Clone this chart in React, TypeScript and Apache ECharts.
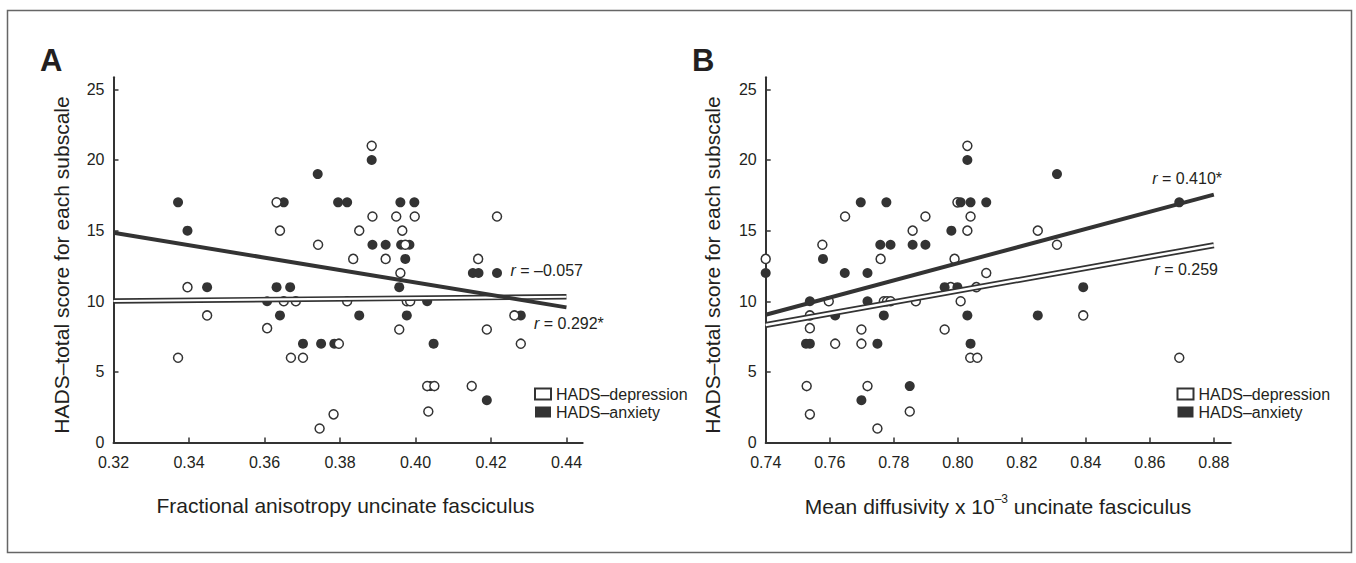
import React, { useEffect, useRef } from 'react';
import * as echarts from 'echarts';

const FONT = '"Liberation Sans", Arial, Helvetica, sans-serif';
const INK = '#333333';
const TEXT = '#231f20';

// Tick labels
const faTicks = [0.32, 0.34, 0.36, 0.38, 0.40, 0.42, 0.44];
const mdTicks = [0.74, 0.76, 0.78, 0.80, 0.82, 0.84, 0.86, 0.88];
const yTicks = [0, 5, 10, 15, 20, 25];

// Panel A: fractional anisotropy vs HADS score
const faAnxiety = [
  [0.3371, 17], [0.3396, 15], [0.3448, 11], [0.3607, 10], [0.3632, 11], [0.3641, 9],
  [0.3651, 17], [0.3668, 11], [0.3702, 7], [0.3741, 19], [0.3750, 7], [0.3785, 7],
  [0.3795, 17], [0.3819, 17], [0.3851, 9], [0.3884, 20], [0.3886, 14], [0.3921, 14],
  [0.3957, 11], [0.3960, 17], [0.3962, 14], [0.3984, 14], [0.3973, 13], [0.3977, 9],
  [0.3997, 17], [0.4031, 10], [0.4039, 4], [0.4048, 7], [0.4152, 12], [0.4167, 12],
  [0.4189, 3], [0.4216, 12], [0.4279, 9],
];
const faDepression = [
  [0.3371, 6], [0.3396, 11], [0.3448, 9], [0.3607, 8.1], [0.3632, 17], [0.3641, 15],
  [0.3651, 10], [0.3670, 6], [0.3683, 10], [0.3702, 6], [0.3742, 14], [0.3746, 1],
  [0.3783, 2], [0.3797, 7], [0.3819, 10], [0.3835, 13], [0.3851, 15], [0.3884, 21],
  [0.3886, 16], [0.3921, 13], [0.3949, 16], [0.3957, 8], [0.3960, 12], [0.3965, 15],
  [0.3973, 14], [0.3977, 10], [0.3986, 10], [0.3998, 16], [0.4031, 4], [0.4034, 2.2],
  [0.4050, 4], [0.4149, 4], [0.4166, 13], [0.4189, 8], [0.4216, 16], [0.4262, 9],
  [0.4279, 7],
];

// Panel B: mean diffusivity vs HADS score
const mdAnxiety = [
  [0.7400, 12], [0.7526, 7], [0.7538, 10], [0.7538, 7], [0.7579, 13], [0.7617, 9],
  [0.7647, 12], [0.7697, 17], [0.7699, 3], [0.7718, 12], [0.7718, 10], [0.7749, 7],
  [0.7758, 14], [0.7769, 9], [0.7777, 17], [0.7790, 14], [0.7850, 4], [0.7859, 14],
  [0.7899, 14], [0.7959, 11], [0.7980, 15], [0.7999, 11], [0.8009, 17], [0.8030, 20],
  [0.8030, 9], [0.8040, 17], [0.8040, 7], [0.8089, 17], [0.8250, 9], [0.8310, 19],
  [0.8392, 11], [0.8692, 17],
];
const mdDepression = [
  [0.7400, 13], [0.7528, 4], [0.7538, 9], [0.7538, 8.1], [0.7538, 2], [0.7577, 14],
  [0.7597, 10], [0.7617, 7], [0.7648, 16], [0.7699, 8], [0.7699, 7], [0.7718, 4],
  [0.7749, 1], [0.7759, 13], [0.7769, 10], [0.7779, 10], [0.7790, 10], [0.7850, 2.2],
  [0.7859, 15], [0.7869, 10], [0.7899, 16], [0.7959, 8], [0.7978, 11], [0.7990, 13],
  [0.7999, 17], [0.8009, 10], [0.8030, 21], [0.8030, 15], [0.8040, 16], [0.8039, 6],
  [0.8061, 6], [0.8058, 11], [0.8089, 12], [0.8250, 15], [0.8310, 14], [0.8392, 9],
  [0.8692, 6],
];

// Regression lines (end points)
const faAnxietyFit = [[0.32, 14.85], [0.44, 9.57]];
const faDepressionFit = [[0.32, 10.02], [0.44, 10.32]];
const mdAnxietyFit = [[0.74, 9.05], [0.88, 17.55]];
const mdDepressionFit = [[0.74, 8.32], [0.88, 13.97]];

const DEP = 'HADS–depression';
const ANX = 'HADS–anxiety';

function xAxisFor(gridIndex: number, min: number, max: number, ticks: number[]) {
  return {
    type: 'value', gridIndex, min, max,
    axisLine: { show: true, onZero: false, lineStyle: { color: INK, width: 2 } },
    axisTick: { show: true, inside: true, length: 5, customValues: ticks, lineStyle: { color: INK, width: 1.5 } },
    axisLabel: { customValues: ticks, formatter: (v: number) => v.toFixed(2), fontSize: 16, color: TEXT, fontFamily: FONT, margin: 12 },
    splitLine: { show: false },
  };
}
function yAxisFor(gridIndex: number) {
  return {
    type: 'value', gridIndex, min: 0, max: 25.85,
    axisLine: { show: true, onZero: false, lineStyle: { color: INK, width: 2 } },
    axisTick: { show: true, inside: true, length: 5, customValues: yTicks, lineStyle: { color: INK, width: 1.5 } },
    axisLabel: { customValues: yTicks, formatter: (v: number) => String(v), fontSize: 16, color: TEXT, fontFamily: FONT, margin: 9 },
    splitLine: { show: false },
  };
}
function scatterFor(idx: number, name: string, data: number[][], open: boolean, z: number) {
  return {
    type: 'scatter', name, xAxisIndex: idx, yAxisIndex: idx, data, z, clip: false,
    symbol: 'circle', symbolSize: open ? 9 : 10,
    itemStyle: open ? { color: '#ffffff', borderColor: INK, borderWidth: 1.5, opacity: 1 } : { color: INK, opacity: 1 },
    silent: true,
  };
}
function lineFor(idx: number, data: number[][], color: string, width: number, z: number) {
  return {
    type: 'line', xAxisIndex: idx, yAxisIndex: idx, data, z, symbol: 'none', silent: true,
    lineStyle: { color, width, cap: 'butt' },
  };
}
function legendFor(left: number, top: number) {
  return {
    left, top, orient: 'vertical', padding: 0, itemWidth: 16, itemHeight: 11, itemGap: 2, selectedMode: false,
    textStyle: { fontSize: 16, color: TEXT, fontFamily: FONT },
    data: [
      { name: DEP, icon: 'rect', itemStyle: { color: '#ffffff', borderColor: INK, borderWidth: 2 } },
      { name: ANX, icon: 'rect', itemStyle: { color: INK, borderWidth: 0 } },
    ],
  };
}
function txt(x: number, y: number, text: string, fontSize: number, align: string, extra: any = {}) {
  return {
    type: 'text', x, y, silent: true, ...extra,
    style: {
      text, fontSize, fontFamily: FONT, fill: TEXT, align, verticalAlign: 'middle',
      rich: { i: { fontStyle: 'italic', fontSize, fontFamily: FONT, fill: TEXT } },
      ...(extra.style || {}),
    },
  };
}

export default function App() {
  const ref = useRef<HTMLDivElement>(null);
  useEffect(() => {
    if (!ref.current) return;
    const chart = echarts.init(ref.current, null, { renderer: 'svg' });
    chart.setOption({
      animation: false,
      backgroundColor: '#ffffff',
      grid: [
        { left: 113.5, top: 77.3, width: 469.2, height: 365.3, outerBoundsMode: 'none' },
        { left: 765.7, top: 77.3, width: 465.1, height: 365.3, outerBoundsMode: 'none' },
      ],
      xAxis: [xAxisFor(0, 0.32, 0.4443, faTicks), xAxisFor(1, 0.74, 0.8853, mdTicks)],
      yAxis: [yAxisFor(0), yAxisFor(1)],
      legend: [legendFor(534, 386), legendFor(1176.5, 386)],
      series: [
        scatterFor(0, ANX, faAnxiety, false, 2),
        scatterFor(0, DEP, faDepression, true, 3),
        lineFor(0, faDepressionFit, INK, 5.5, 4),
        lineFor(0, faDepressionFit, '#ffffff', 2.2, 5),
        lineFor(0, faAnxietyFit, INK, 4, 6),
        scatterFor(1, DEP, mdDepression, true, 2),
        scatterFor(1, ANX, mdAnxiety, false, 3),
        lineFor(1, mdDepressionFit, INK, 6, 4),
        lineFor(1, mdDepressionFit, '#ffffff', 2.5, 5),
        lineFor(1, mdAnxietyFit, INK, 4, 6),
      ],
      graphic: [
        { type: 'rect', silent: true, shape: { x: 7.5, y: 10.5, width: 1344, height: 542 }, style: { fill: 'none', stroke: '#666666', lineWidth: 1.5 } },
        txt(40, 60, 'A', 31, 'left', { style: { fontWeight: 'bold' } }),
        txt(692, 60, 'B', 31, 'left', { style: { fontWeight: 'bold' } }),
        txt(61, 265, 'HADS–total score for each subscale', 21, 'center', { rotation: Math.PI / 2 }),
        txt(712, 265, 'HADS–total score for each subscale', 21, 'center', { rotation: Math.PI / 2 }),
        txt(345.5, 505, 'Fractional anisotropy uncinate fasciculus', 21, 'center'),
        {
          type: 'text', x: 998, y: 505, silent: true,
          style: {
            text: '{a|Mean diffusivity x 10}{s|–3}{a| uncinate fasciculus}',
            align: 'center', verticalAlign: 'middle', fill: TEXT, fontFamily: FONT, fontSize: 21,
            rich: {
              a: { fontSize: 21, fontFamily: FONT, fill: TEXT, lineHeight: 24, verticalAlign: 'bottom' },
              s: { fontSize: 12, fontFamily: FONT, fill: TEXT, lineHeight: 24, verticalAlign: 'top' },
            },
          },
        },
        txt(583, 270.7, '{i|r} = –0.057', 16, 'right'),
        txt(534, 323, '{i|r} = 0.292*', 16, 'left'),
        txt(1222, 178.3, '{i|r} = 0.410*', 16, 'right'),
        txt(1218, 269.3, '{i|r} = 0.259', 16, 'right'),
      ],
    });
    return () => chart.dispose();
  }, []);
  return <div ref={ref} style={{ position: 'absolute', left: 0, top: 0, width: 1356, height: 563 }} />;
}
